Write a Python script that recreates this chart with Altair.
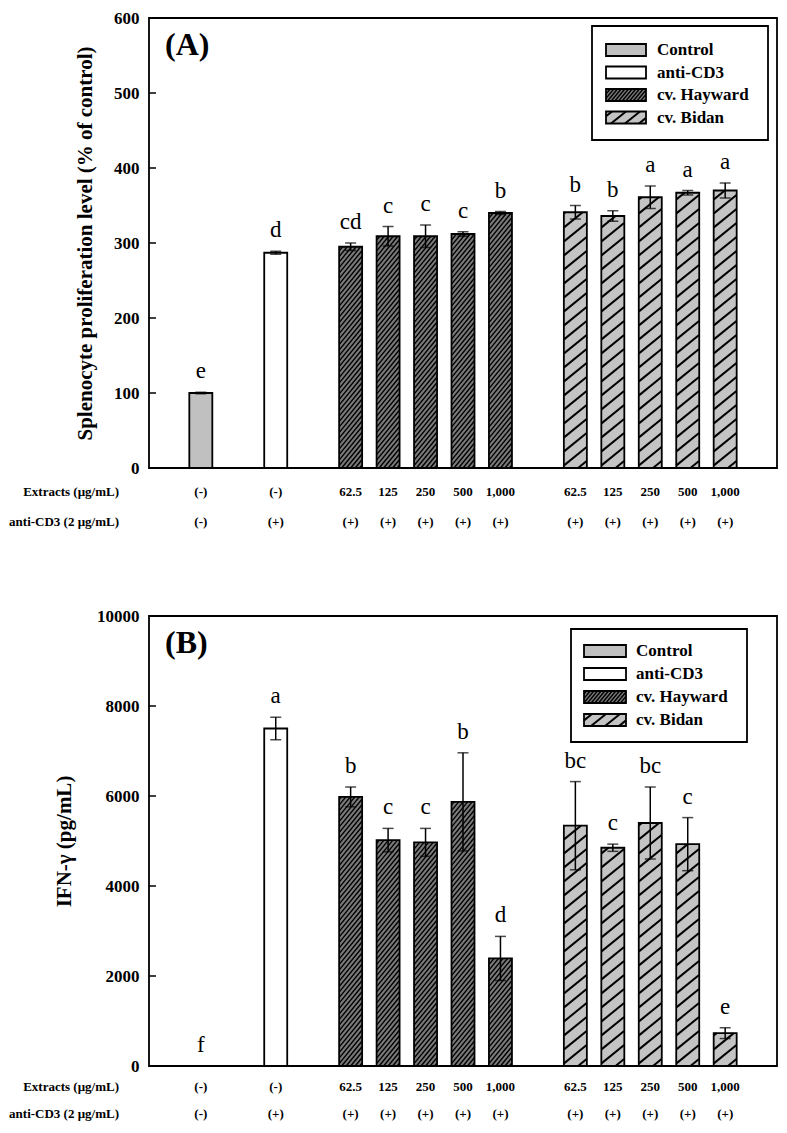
import altair as alt
import pandas as pd

# ---------------- data ----------------
groups = ["Control", "anti-CD3"] + ["cv. Hayward"] * 5 + ["cv. Bidan"] * 5
extract_labels = ["(-)", "(-)", "62.5", "125", "250", "500", "1,000",
                  "62.5", "125", "250", "500", "1,000"]
cd3_labels = ["(-)", "(+)", "(+)", "(+)", "(+)", "(+)", "(+)",
              "(+)", "(+)", "(+)", "(+)", "(+)"]
legend_names = ["Control", "anti-CD3", "cv. Hayward", "cv. Bidan"]

prolif_mean = [100, 287, 295, 309, 309, 312, 340, 341, 336, 361, 367, 370]
prolif_err = [1, 2, 5, 13, 15, 3, 2, 9, 7, 15, 3, 10]
prolif_letters = ["e", "d", "cd", "c", "c", "c", "b", "b", "b", "a", "a", "a"]
prolif_ticks = [0, 100, 200, 300, 400, 500, 600]

ifn_mean = [0, 7500, 5980, 5020, 4970, 5870, 2390, 5340, 4850, 5400, 4930, 730]
ifn_err = [0, 250, 220, 260, 310, 1090, 490, 980, 80, 800, 590, 120]
ifn_letters = ["f", "a", "b", "c", "c", "b", "d", "bc", "c", "bc", "c", "e"]
ifn_ticks = [0, 2000, 4000, 6000, 8000, 10000]

# ---------------- layout / style ----------------
W = 628
H = 450
X_DOMAIN = (-1.25, 15.25)
BAR_W = 23
FONT = "Liberation Serif"
FILLS = ["#c0c0c0", "#ffffff", "#7a7a7a", "#c4c4c4"]
HATCH = {
    "cv. Hayward": {"slope": 1.2, "step": 5.5, "width": 1.4},
    "cv. Bidan": {"slope": 0.8, "step": 14.0, "width": 2.0},
}


def slot_positions(gs):
    out, p = [], 0
    for i, g in enumerate(gs):
        if i > 0:
            p += 1 if g == gs[i - 1] else 2
        out.append(p)
    return out


POS = slot_positions(groups)


def stripe_segments(width, height, slope, step):
    segs = []
    c = -slope * width + step * 0.5
    while c < height:
        u0 = max(0.0, -c / slope)
        u1 = min(width, (height - c) / slope)
        if u1 > u0:
            segs.append((u0, slope * u0 + c, u1, slope * u1 + c))
        c += step
    return segs


def bar_hatch(means, ymax):
    kx = W / (X_DOMAIN[1] - X_DOMAIN[0])
    ky = H / ymax
    rows = []
    for p, v, g in zip(POS, means, groups):
        if g not in HATCH or v <= 0:
            continue
        st = HATCH[g]
        for u0, v0, u1, v1 in stripe_segments(BAR_W, v * ky, st["slope"], st["step"]):
            rows.append({"x": p + (u0 - BAR_W / 2) / kx, "x2": p + (u1 - BAR_W / 2) / kx,
                         "y": v0 / ky, "y2": v1 / ky, "sw": st["width"]})
    return pd.DataFrame(rows)


def legend_layers(box, sw_x, text_x, row_y, sw_h=12):
    fill_scale = alt.Scale(domain=legend_names, range=FILLS)
    box_df = pd.DataFrame([{"x0": box[0], "y0": box[1], "x1": box[2], "y1": box[3]}])
    sw = pd.DataFrame({"name": legend_names,
                       "x0": [sw_x[0]] * 4, "x1": [sw_x[1]] * 4,
                       "y0": [y - sw_h / 2 for y in row_y],
                       "y1": [y + sw_h / 2 for y in row_y],
                       "ty": row_y, "tx": [text_x] * 4})
    hrows = []
    for _, r in sw.iterrows():
        if r["name"] not in HATCH:
            continue
        st = HATCH[r["name"]]
        for u0, v0, u1, v1 in stripe_segments(r["x1"] - r["x0"], sw_h, st["slope"], st["step"] * 0.8):
            hrows.append({"x": r["x0"] + u0, "x2": r["x0"] + u1,
                          "y": r["y1"] - v0, "y2": r["y1"] - v1, "sw": st["width"]})
    hdf = pd.DataFrame(hrows)
    PX = lambda f: alt.X(f, scale=None, axis=None)
    PY = lambda f: alt.Y(f, scale=None, axis=None)
    lbox = alt.Chart(box_df).mark_rect(fill="white", stroke="black", strokeWidth=1.8).encode(
        PX("x0:Q"), alt.X2("x1:Q"), PY("y0:Q"), alt.Y2("y1:Q"))
    lfill = alt.Chart(sw).mark_rect(strokeWidth=0).encode(
        PX("x0:Q"), alt.X2("x1:Q"), PY("y0:Q"), alt.Y2("y1:Q"),
        alt.Fill("name:N", scale=fill_scale, legend=None))
    lhatch = alt.Chart(hdf).mark_rule(color="black").encode(
        PX("x:Q"), alt.X2("x2:Q"), PY("y:Q"), alt.Y2("y2:Q"),
        alt.StrokeWidth("sw:Q", scale=None, legend=None))
    lout = alt.Chart(sw).mark_rect(fillOpacity=0, stroke="black", strokeWidth=1.8).encode(
        PX("x0:Q"), alt.X2("x1:Q"), PY("y0:Q"), alt.Y2("y1:Q"))
    ltext = alt.Chart(sw).mark_text(font=FONT, fontSize=17, fontWeight="bold", align="left",
                                    baseline="middle", color="black").encode(
        PX("tx:Q"), PY("ty:Q"), alt.Text("name:N"))
    return alt.layer(lbox, lfill, lhatch, lout, ltext)


def make_panel(means, errs, letters, ymax, ticks, title, tag, title_pad, row_y, legend_spec):
    df = pd.DataFrame({"pos": POS, "group": groups, "mean": means,
                       "lo": [m - e for m, e in zip(means, errs)],
                       "hi": [m + e for m, e in zip(means, errs)],
                       "letter": letters, "ext": extract_labels, "cd3": cd3_labels})
    xs = alt.Scale(domain=list(X_DOMAIN), nice=False, zero=False)
    ys = alt.Scale(domain=[0, ymax], nice=False, zero=True)
    X = alt.X("pos:Q", scale=xs, axis=None)
    fill_scale = alt.Scale(domain=legend_names, range=FILLS)
    base = alt.Chart(df)

    yaxis = alt.Axis(values=ticks, ticks=False, domain=False, grid=False, format="d",
                     labelFont=FONT, labelFontSize=17, labelFontWeight="bold", labelColor="black",
                     labelPadding=10, labelFlush=False, labelOverlap=False,
                     title=title, titleFont=FONT, titleFontSize=21, titleFontWeight="bold",
                     titleColor="black", titlePadding=title_pad)

    def Y(field):
        return alt.Y(field, scale=ys, axis=yaxis)

    bars = base.mark_bar(size=BAR_W, strokeWidth=0, orient="vertical").encode(
        X, Y("mean:Q"), alt.Fill("group:N", scale=fill_scale, legend=None))
    hatch = alt.Chart(bar_hatch(means, ymax)).mark_rule(color="black").encode(
        alt.X("x:Q", scale=xs, axis=None), alt.X2("x2:Q"),
        Y("y:Q"), alt.Y2("y2:Q"),
        alt.StrokeWidth("sw:Q", scale=None, legend=None))
    outline = base.mark_bar(size=BAR_W, fillOpacity=0, stroke="black", strokeWidth=1.8,
                            orient="vertical").encode(X, Y("mean:Q"))
    err = base.mark_rule(color="black", strokeWidth=1.5).encode(
        X, Y("lo:Q"), alt.Y2("hi:Q"))
    cap_lo = base.mark_tick(orient="horizontal", size=11, thickness=1.5, color="black").encode(
        X, Y("lo:Q"))
    cap_hi = base.mark_tick(orient="horizontal", size=11, thickness=1.5, color="black").encode(
        X, Y("hi:Q"))
    letter_txt = base.mark_text(font=FONT, fontSize=23, dy=-14, baseline="alphabetic",
                                color="black").encode(X, Y("hi:Q"), alt.Text("letter:N"))
    inticks = alt.Chart(pd.DataFrame({"v": ticks})).mark_rule(color="black", strokeWidth=1.5).encode(
        Y("v:Q"), x=alt.value(0), x2=alt.value(7))
    row1 = base.mark_text(font=FONT, fontSize=13, fontWeight="bold", baseline="middle",
                          color="black").encode(X, y=alt.value(H + row_y[0]), text="ext:N")
    row2 = base.mark_text(font=FONT, fontSize=13, fontWeight="bold", baseline="middle",
                          color="black").encode(X, y=alt.value(H + row_y[1]), text="cd3:N")
    rt1 = alt.Chart(pd.DataFrame({"t": ["Extracts (μg/mL)"]})).mark_text(
        font=FONT, fontSize=13, fontWeight="bold", align="right", baseline="middle",
        color="black").encode(x=alt.value(-30), y=alt.value(H + row_y[0]), text="t:N")
    rt2 = alt.Chart(pd.DataFrame({"t": ["anti-CD3 (2 μg/mL)"]})).mark_text(
        font=FONT, fontSize=13, fontWeight="bold", align="right", baseline="middle",
        color="black").encode(x=alt.value(-30), y=alt.value(H + row_y[1]), text="t:N")
    tag_txt = alt.Chart(pd.DataFrame({"t": [tag]})).mark_text(
        font=FONT, fontSize=32, fontWeight="bold", align="left", baseline="middle",
        color="black").encode(x=alt.value(16), y=alt.value(27), text="t:N")

    main = alt.layer(bars, hatch, outline, err, cap_lo, cap_hi, letter_txt, inticks,
                     row1, row2, rt1, rt2, tag_txt)
    legend = legend_layers(**legend_spec)
    return alt.layer(main, legend).resolve_scale(x="independent", y="independent").properties(
        width=W, height=H)


panelA = make_panel(prolif_mean, prolif_err, prolif_letters, 600, prolif_ticks,
                    "Splenocyte proliferation level (% of control)", "(A)", 18, (24, 54),
                    {"box": (443, 8, 619, 122), "sw_x": (457, 497), "text_x": 508,
                     "row_y": [32, 54.5, 77, 99.5]})
panelB = make_panel(ifn_mean, ifn_err, ifn_letters, 10000, ifn_ticks,
                    "IFN-γ (pg/mL)", "(B)", 22, (21, 48),
                    {"box": (422, 13, 598, 126), "sw_x": (435, 477), "text_x": 487,
                     "row_y": [35, 58, 81, 104]})

chart = alt.vconcat(panelA, panelB, spacing=76).properties(
    padding={"left": 0, "top": 0, "right": 0, "bottom": 0}
).configure_view(stroke="black", strokeWidth=1.8)

chart.save("out.html", embed_options={"renderer": "svg", "actions": False})
